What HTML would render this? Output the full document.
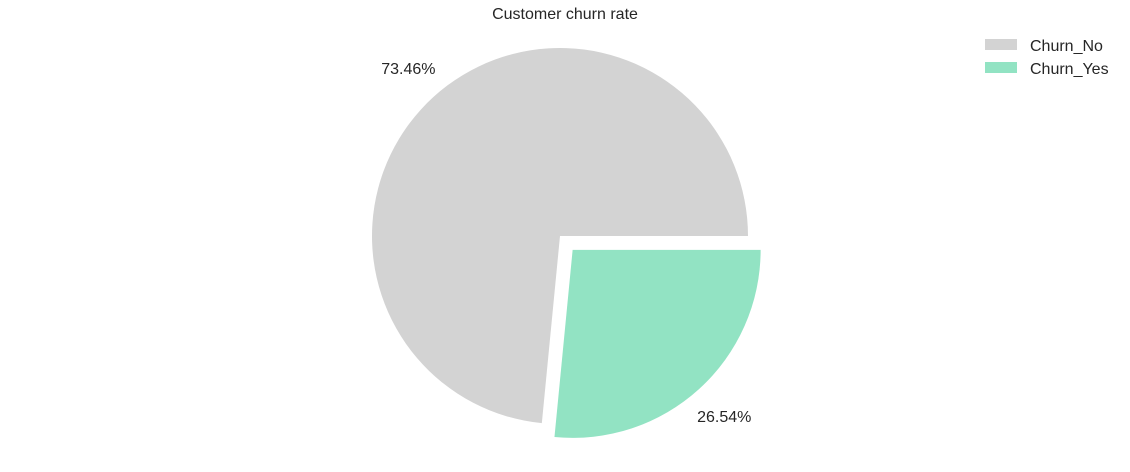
<!DOCTYPE html>
<html><head><meta charset="utf-8"><style>
body{margin:0;background:#fff;}
svg text{font-family:"Liberation Sans",Arial,sans-serif;fill:#262626;}
</style></head><body>
<svg width="1130" height="467" viewBox="0 0 1130 467">
<text x="565" y="19" text-anchor="middle" font-size="16">Customer churn rate</text>
<g id="pie"></g>
<g id="legend"></g>
</svg>
<script>
const categories = ["Churn_No", "Churn_Yes"];
const values = [73.46, 26.54];
const colors = ["#d3d3d3", "#92e3c3"];
const explode = [0, 0.1];
const cx = 560, cy = 236, R = 188;
const NS = "http://www.w3.org/2000/svg";
const pie = document.getElementById("pie");
const total = values.reduce((a,b)=>a+b,0);
let start = 0;
values.forEach((v,i)=>{
  const sweep = v/total*2*Math.PI;
  const end = start + sweep, mid = start + sweep/2;
  const ox = cx + explode[i]*R*Math.cos(mid), oy = cy - explode[i]*R*Math.sin(mid);
  const x1 = ox + R*Math.cos(start), y1 = oy - R*Math.sin(start);
  const x2 = ox + R*Math.cos(end), y2 = oy - R*Math.sin(end);
  const large = sweep > Math.PI ? 1 : 0;
  const p = document.createElementNS(NS, "path");
  p.setAttribute("d", `M${ox},${oy} L${x1},${y1} A${R},${R} 0 ${large} 0 ${x2},${y2} Z`);
  p.setAttribute("fill", colors[i]);
  
  
  pie.appendChild(p);
  const t = document.createElementNS(NS, "text");
  t.setAttribute("x", ox + 1.2*R*Math.cos(mid));
  t.setAttribute("y", oy - 1.2*R*Math.sin(mid) + 5);
  t.setAttribute("text-anchor", "middle");
  t.setAttribute("font-size", "16");
  t.textContent = v.toFixed(2) + "%";
  
  
  pie.appendChild(t);
  start = end;
});
const lg = document.getElementById("legend");
categories.forEach((c,i)=>{
  const y = 45 + i*23;
  const r = document.createElementNS(NS, "rect");
  r.setAttribute("x", 985); r.setAttribute("y", y-6);
  r.setAttribute("width", 32); r.setAttribute("height", 11);
  r.setAttribute("fill", colors[i]);
  
  
  lg.appendChild(r);
  const t = document.createElementNS(NS, "text");
  t.setAttribute("x", 1030); t.setAttribute("y", y+6);
  t.setAttribute("font-size", "16");
  t.textContent = c;
  
  
  lg.appendChild(t);
});
</script>
</body></html>
